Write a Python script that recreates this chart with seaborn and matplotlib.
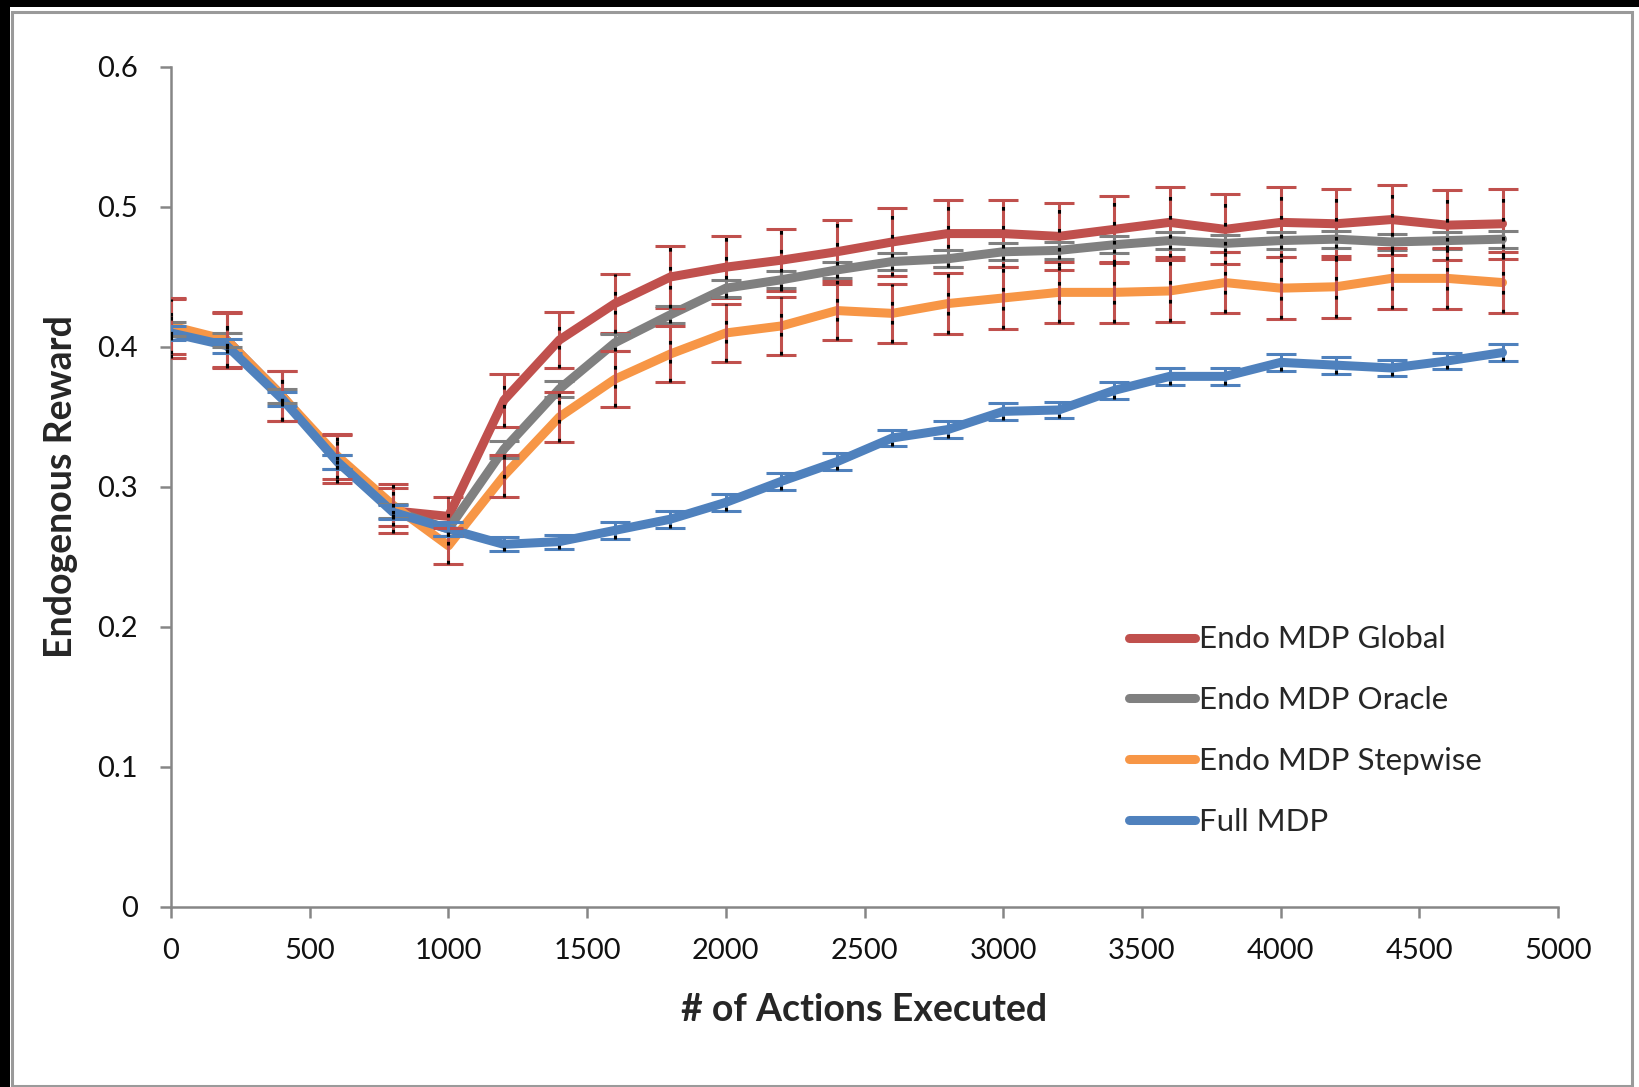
import pandas as pd
import matplotlib
matplotlib.use("Agg")
import matplotlib.pyplot as plt
import seaborn as sns
from matplotlib.patches import Rectangle

# data
actions = [0, 200, 400, 600, 800, 1000, 1200, 1400, 1600, 1800, 2000, 2200, 2400,
           2600, 2800, 3000, 3200, 3400, 3600, 3800, 4000, 4200, 4400, 4600, 4800]

endo_global = [0.413, 0.405, 0.365, 0.320, 0.283, 0.279, 0.362, 0.405, 0.431, 0.450,
               0.457, 0.462, 0.468, 0.475, 0.481, 0.481, 0.479, 0.484, 0.489, 0.484,
               0.489, 0.488, 0.491, 0.487, 0.488]
endo_global_err = [0.021, 0.020, 0.018, 0.017, 0.016, 0.014, 0.019, 0.020, 0.021, 0.022,
                   0.022, 0.022, 0.023, 0.024, 0.024, 0.024, 0.024, 0.024, 0.025, 0.025,
                   0.025, 0.025, 0.025, 0.025, 0.025]

endo_oracle = [0.413, 0.405, 0.365, 0.318, 0.283, 0.270, 0.327, 0.370, 0.403, 0.423,
               0.442, 0.448, 0.455, 0.461, 0.463, 0.468, 0.469, 0.473, 0.476, 0.474,
               0.476, 0.477, 0.475, 0.476, 0.477]
endo_oracle_err = [0.005, 0.005, 0.005, 0.005, 0.005, 0.005, 0.006, 0.006, 0.006, 0.006,
                   0.006, 0.006, 0.006, 0.006, 0.006, 0.006, 0.006, 0.006, 0.006, 0.006,
                   0.006, 0.006, 0.006, 0.006, 0.006]

endo_stepwise = [0.415, 0.405, 0.365, 0.322, 0.287, 0.258, 0.308, 0.350, 0.377, 0.395,
                 0.410, 0.415, 0.426, 0.424, 0.431, 0.435, 0.439, 0.439, 0.440, 0.446,
                 0.442, 0.443, 0.449, 0.449, 0.446]
endo_stepwise_err = [0.020, 0.019, 0.018, 0.016, 0.015, 0.013, 0.015, 0.018, 0.020, 0.020,
                     0.021, 0.021, 0.021, 0.021, 0.022, 0.022, 0.022, 0.022, 0.022, 0.022,
                     0.022, 0.022, 0.022, 0.022, 0.022]

full_mdp = [0.410, 0.401, 0.363, 0.318, 0.282, 0.270, 0.259, 0.261, 0.269, 0.277,
            0.289, 0.304, 0.318, 0.335, 0.341, 0.354, 0.355, 0.369, 0.379, 0.379,
            0.389, 0.387, 0.385, 0.390, 0.396]
full_mdp_err = [0.005, 0.005, 0.005, 0.005, 0.005, 0.005, 0.005, 0.005, 0.006, 0.006,
                0.006, 0.006, 0.006, 0.006, 0.006, 0.006, 0.006, 0.006, 0.006, 0.006,
                0.006, 0.006, 0.006, 0.006, 0.006]

labels = ["Endo MDP Global", "Endo MDP Oracle", "Endo MDP Stepwise", "Full MDP"]
colors = ["#C0504D", "#808080", "#F79646", "#4F81BD"]
err_colors = ["#C0504D", "#808080", "#C0504D", "#4F81BD"]
series = [endo_global, endo_oracle, endo_stepwise, full_mdp]
errors = [endo_global_err, endo_oracle_err, endo_stepwise_err, full_mdp_err]

x_ticks = [0, 500, 1000, 1500, 2000, 2500, 3000, 3500, 4000, 4500, 5000]
y_ticks = [0, 0.1, 0.2, 0.3, 0.4, 0.5, 0.6]
y_tick_labels = ["0", "0.1", "0.2", "0.3", "0.4", "0.5", "0.6"]

df = pd.concat([pd.DataFrame({"actions": actions, "reward": s, "method": lab})
                for s, lab in zip(series, labels)], ignore_index=True)

sns.set_style("white")
plt.rcParams["font.family"] = ["Lato", "DejaVu Sans"]

fig = plt.figure(figsize=(16.4, 10.87), dpi=100, facecolor="white")
ax = fig.add_axes([0.1043, 0.1656, 0.8457, 0.7728])

# outer frame like the screenshot
fig.patches.append(Rectangle((0, 1 - 7 / 1087), 1, 7 / 1087, transform=fig.transFigure,
                             facecolor="black", edgecolor="none", zorder=0))
fig.patches.append(Rectangle((0, 0), 10 / 1640, 1, transform=fig.transFigure,
                             facecolor="black", edgecolor="none", zorder=0))
fig.patches.append(Rectangle((12 / 1640, 1 / 1087), 1620 / 1640, 1074 / 1087,
                             transform=fig.transFigure, facecolor="none",
                             edgecolor="#9a9a9a", linewidth=2.2, zorder=0))

sns.lineplot(data=df, x="actions", y="reward", hue="method", hue_order=labels,
             palette=colors, linewidth=6.5, ax=ax, zorder=3)

for s, e, c in zip(series, errors, err_colors):
    ax.errorbar(actions, s, yerr=e, fmt="none", ecolor=c, elinewidth=2.2,
                capsize=11, capthick=2.2, zorder=4)
    lo = [v - d for v, d in zip(s, e)]
    hi = [v + d for v, d in zip(s, e)]
    ax.vlines(actions, lo, hi, colors="black", linewidth=2.2,
              linestyles=(0, (1.2, 5)), zorder=5)

ax.set_xlim(0, 5000)
ax.set_ylim(0, 0.6)
ax.set_xticks(x_ticks)
ax.set_xticklabels([str(t) for t in x_ticks])
ax.set_yticks(y_ticks)
ax.set_yticklabels(y_tick_labels)

for side in ["top", "right"]:
    ax.spines[side].set_visible(False)
for side in ["left", "bottom"]:
    ax.spines[side].set_color("#868686")
    ax.spines[side].set_linewidth(1.8)

ax.tick_params(axis="both", which="major", direction="out", length=8, width=1.8,
               color="#868686", labelsize=21, labelcolor="#111111")
ax.tick_params(axis="x", pad=14, bottom=True)
ax.tick_params(axis="y", pad=16, left=True)

ax.set_xlabel("# of Actions Executed", fontsize=27, fontweight="bold", labelpad=21)
ax.set_ylabel("Endogenous Reward", fontsize=27, fontweight="bold", labelpad=14)

ax.legend(loc="upper left", bbox_to_anchor=(0.682, 0.35), frameon=False,
          fontsize=22.5, handlelength=2.1, handletextpad=0.12, labelspacing=1.05,
          borderaxespad=0)

fig.savefig("out.png", dpi=100, facecolor="white")
